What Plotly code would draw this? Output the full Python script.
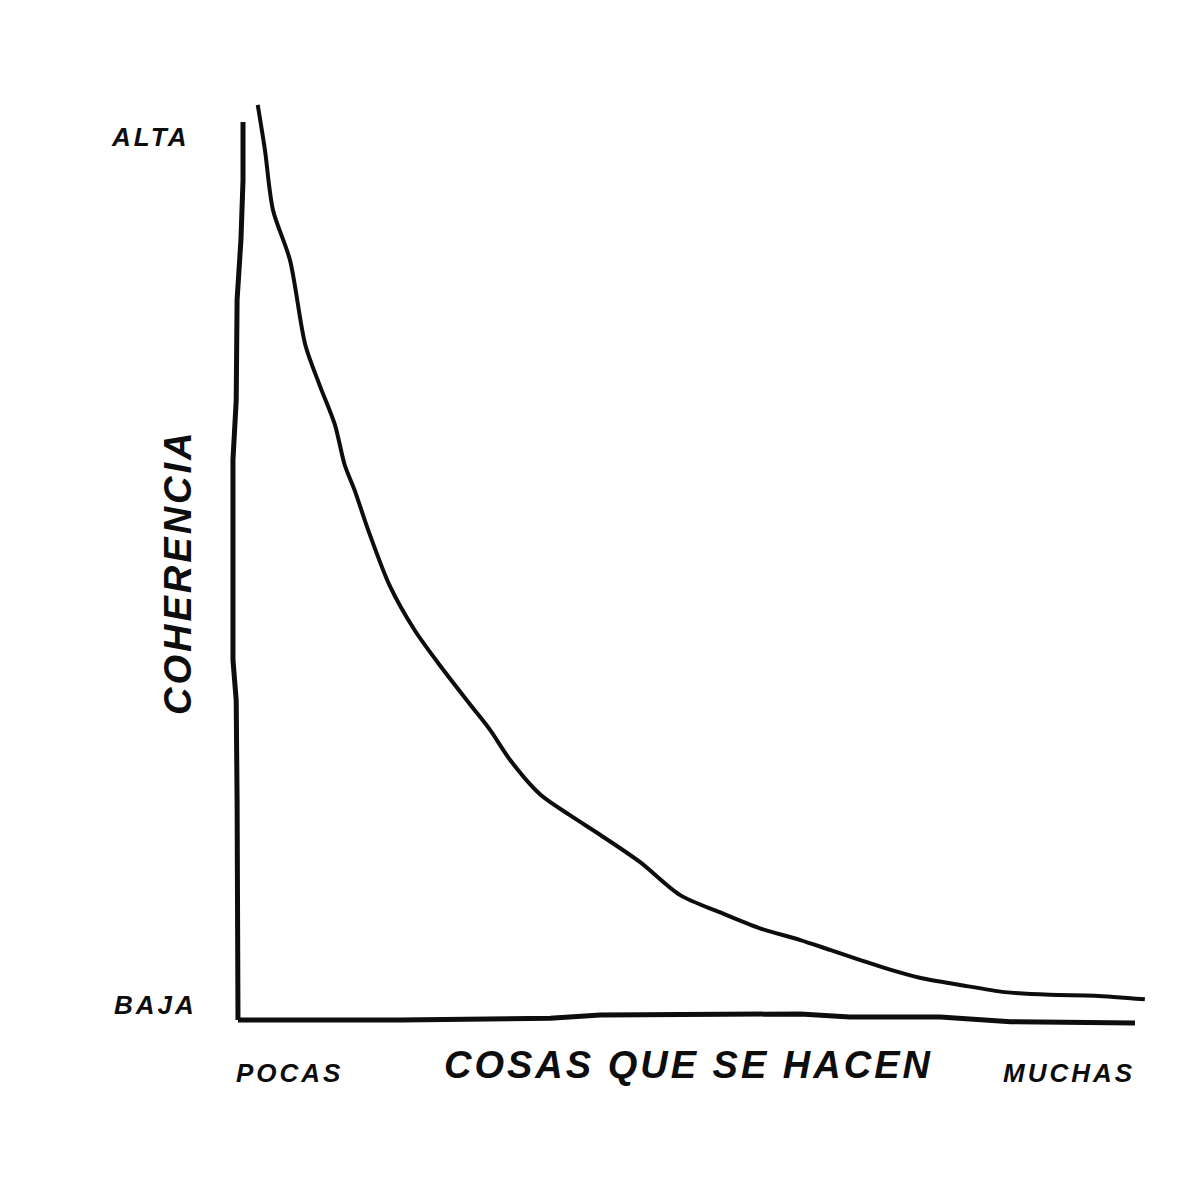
import plotly.graph_objects as go

# Curve: "cosas que se hacen" (0 = pocas, 1 = muchas) vs "coherencia" (0 = baja, 1 = alta)
cosas = [0.022, 0.030, 0.039, 0.058, 0.075, 0.091, 0.108, 0.119, 0.130, 0.145,
         0.169, 0.197, 0.225, 0.259, 0.281, 0.303, 0.337, 0.370, 0.404, 0.448,
         0.493, 0.537, 0.582, 0.627, 0.660, 0.693, 0.727, 0.760, 0.805, 0.855,
         0.905, 0.955, 1.011]
coherencia = [1.019, 0.969, 0.902, 0.846, 0.752, 0.707, 0.663, 0.618, 0.590, 0.546,
              0.484, 0.434, 0.395, 0.351, 0.323, 0.290, 0.251, 0.228, 0.206, 0.176,
              0.139, 0.120, 0.102, 0.089, 0.078, 0.067, 0.056, 0.047, 0.039, 0.031,
              0.028, 0.027, 0.023]

# Hand-drawn axes
yaxis_x = [0.0056, 0.0056, 0.0033, -0.001, -0.002, -0.0056, -0.0056, -0.002, -0.001, 0.0]
yaxis_y = [1.0, 0.935, 0.869, 0.802, 0.690, 0.624, 0.401, 0.356, 0.245, 0.0]
xaxis_x = [0.0, 0.181, 0.348, 0.404, 0.627, 0.682, 0.783, 0.861, 1.0]
xaxis_y = [0.0, 0.0, 0.002, 0.0056, 0.0067, 0.0033, 0.0033, -0.002, -0.0033]

x_title = "COSAS QUE SE HACEN"
y_title = "COHERENCIA"
x_low, x_high = "POCAS", "MUCHAS"
y_low, y_high = "BAJA", "ALTA"

ink = "#0d0d0d"
FONT = "Liberation Sans, Arial, sans-serif"

fig = go.Figure()
for xs, ys in [(yaxis_x, yaxis_y), (xaxis_x, xaxis_y)]:
    fig.add_trace(go.Scatter(x=xs, y=ys, mode="lines",
                             line=dict(color=ink, width=5), hoverinfo="skip"))
fig.add_trace(go.Scatter(x=cosas, y=coherencia, mode="lines",
                         line=dict(color=ink, width=4, shape="spline", smoothing=0.8),
                         hoverinfo="skip"))


def sp(text, ls):
    return f'<span style="letter-spacing:{ls}px">{text}</span>'


small = dict(family=FONT, size=26, color=ink, style="italic", weight="bold")
big = dict(family=FONT, size=38, color=ink, style="italic", weight="bold")

ann = [
    dict(x=-0.098, y=0.983, text=sp(y_high, 3), font=small),
    dict(x=-0.0925, y=0.0167, text=sp(y_low, 3), font=small),
    dict(x=0.0569, y=-0.059, text=sp(x_low, 3), font=small),
    dict(x=0.926, y=-0.059, text=sp(x_high, 3), font=small),
    dict(x=0.5017, y=-0.050, text=sp(x_title, 3), font=big),
    dict(x=-0.0669, y=0.4989, text=sp(y_title, 3), font=big, textangle=-90),
]
for a in ann:
    fig.add_annotation(xref="x", yref="y", showarrow=False,
                       xanchor="center", yanchor="middle", **a)

fig.update_layout(
    width=1200, height=1200,
    margin=dict(l=0, r=0, t=0, b=0),
    paper_bgcolor="white", plot_bgcolor="white",
    showlegend=False,
    xaxis=dict(range=[-0.2564, 1.0814], visible=False, fixedrange=True),
    yaxis=dict(range=[-0.2094, 1.1269], visible=False, fixedrange=True),
)
fig.write_html("out.html")
